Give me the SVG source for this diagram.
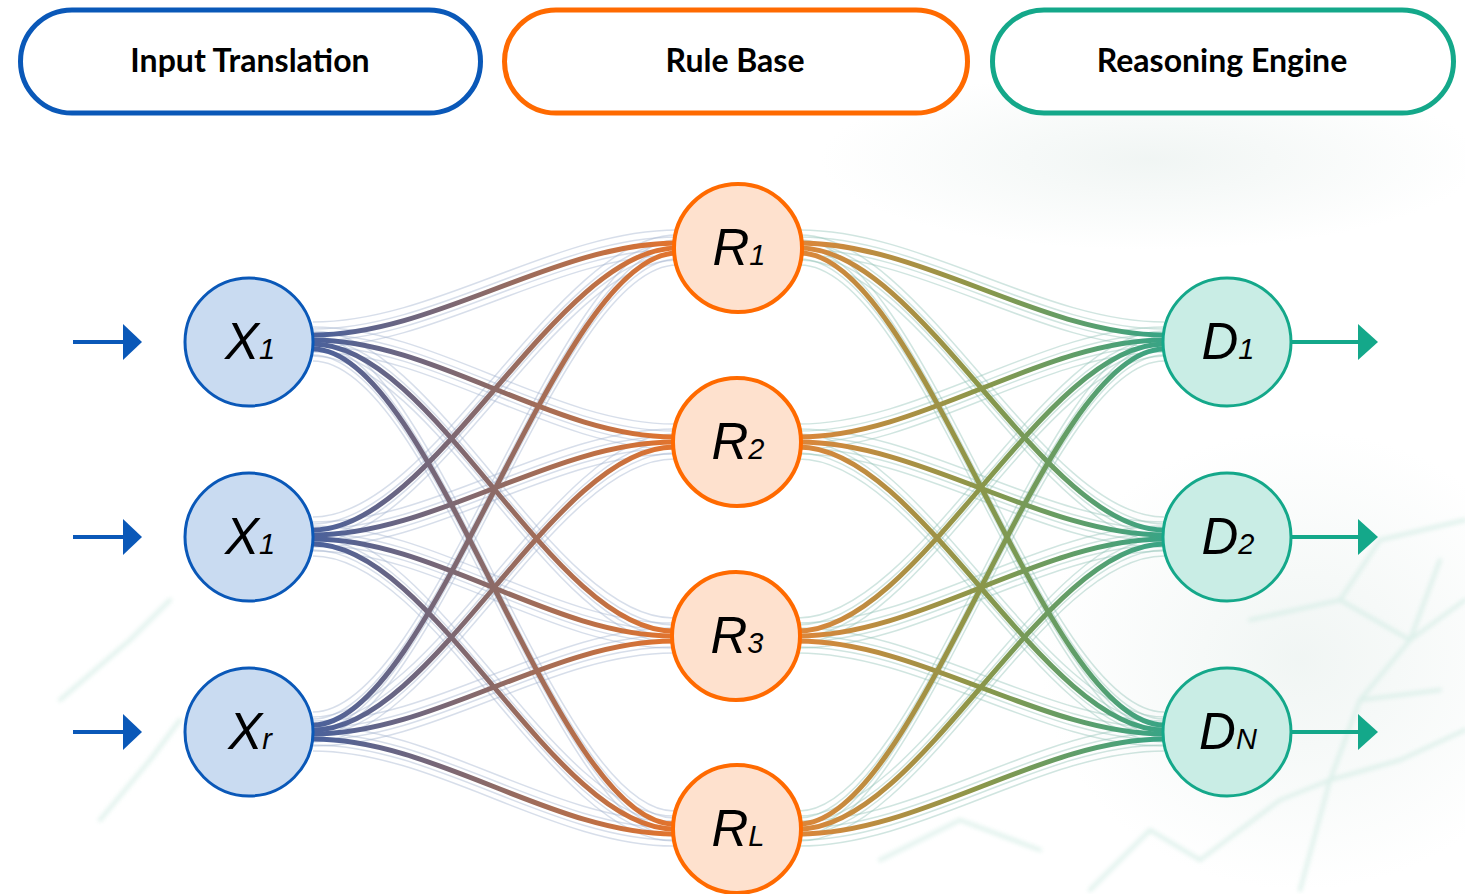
<svg xmlns="http://www.w3.org/2000/svg" xmlns:xlink="http://www.w3.org/1999/xlink" width="1465" height="894" viewBox="0 0 1465 894">
<defs>
<style>
.hdr{fill:#ffffff;stroke-width:5}
.htxt{font-family:Lato,"Open Sans",sans-serif;font-weight:700;font-size:32px;fill:#000;text-anchor:middle}
.lbl{font-family:"Liberation Sans",Arial,sans-serif;font-style:italic;font-size:51px;fill:#000;text-anchor:middle}
.sub{font-size:29px}
.xn{fill:#c9dbf1;stroke:#0a58b8;stroke-width:3}
.rn{fill:#fee1ce;stroke:#ff6a00;stroke-width:4}
.dn{fill:#c9ede5;stroke:#14a88a;stroke-width:3}
.bl{fill:none;stroke:url(#gl);stroke-width:5}
.br{fill:none;stroke:url(#gr);stroke-width:5}
.fl{fill:none;stroke:#9fb1cc;stroke-width:1.5;stroke-opacity:.42}
.fr{fill:none;stroke:#8fc2b6;stroke-width:1.5;stroke-opacity:.42}
.net{fill:none;stroke:#d2ece4;stroke-width:4;stroke-linecap:round;stroke-linejoin:round}
.inarr{stroke:#0a58b8;stroke-width:4;fill:none}
.outarr{stroke:#14a88a;stroke-width:4;fill:none}
</style>
<linearGradient id="gl" gradientUnits="userSpaceOnUse" x1="313" y1="0" x2="676" y2="0">
<stop offset="0" stop-color="#4a619c"/>
<stop offset="0.5" stop-color="#8d6a66"/>
<stop offset="1" stop-color="#e4742c"/>
</linearGradient>
<linearGradient id="gr" gradientUnits="userSpaceOnUse" x1="800" y1="0" x2="1164" y2="0">
<stop offset="0" stop-color="#dc863a"/>
<stop offset="0.5" stop-color="#8a974a"/>
<stop offset="1" stop-color="#38a486"/>
</linearGradient>
<radialGradient id="bgg" cx="0.5" cy="0.5" r="0.5">
<stop offset="0" stop-color="#edf3f1" stop-opacity="0.8"/>
<stop offset="1" stop-color="#edf3f1" stop-opacity="0"/>
</radialGradient>
<filter id="blur" x="-10%" y="-10%" width="120%" height="120%"><feGaussianBlur stdDeviation="2"/></filter>
<marker id="mb" markerUnits="userSpaceOnUse" viewBox="0 0 19 36" refX="0" refY="18" markerWidth="19" markerHeight="36" orient="auto">
<path d="M0,0 L19,18 L0,36 Z" fill="#0a58b8"/>
</marker>
<marker id="mg" markerUnits="userSpaceOnUse" viewBox="0 0 20 36" refX="0" refY="18" markerWidth="20" markerHeight="36" orient="auto">
<path d="M0,0 L20,18 L0,36 Z" fill="#14a88a"/>
</marker>
</defs>

<g id="background">
<rect x="0" y="0" width="1465" height="894" fill="#ffffff"/>
<ellipse cx="1150" cy="160" rx="330" ry="90" fill="url(#bgg)"/>
<ellipse cx="1300" cy="660" rx="260" ry="230" fill="url(#bgg)"/>
<g filter="url(#blur)" opacity="0.7">
<polyline class="net" points="1300,890 1330,780 1360,700 1410,640 1465,600"/>
<polyline class="net" points="1330,780 1400,760 1465,730"/>
<polyline class="net" points="1360,700 1440,690"/>
<polyline class="net" points="1250,620 1340,600 1410,640"/>
<polyline class="net" points="1200,860 1280,800 1330,780"/>
<polyline class="net" points="1090,890 1150,830 1200,860"/>
<polyline class="net" points="1340,600 1380,540 1465,520"/>
<polyline class="net" points="1410,640 1440,560"/>
<polyline class="net" points="60,700 130,640 170,600"/>
<polyline class="net" points="100,820 150,760 180,720"/>
<polyline class="net" points="880,860 960,820 1040,850"/>
</g>
</g>

<g id="connectors">
<g class="fl">
<use href="#a11" y="-13"/><use href="#a11" y="-6"/><use href="#a11" y="6"/><use href="#a11" y="12"/>
<use href="#a12" y="-13"/><use href="#a12" y="-6"/><use href="#a12" y="6"/><use href="#a12" y="12"/>
<use href="#a13" y="-13"/><use href="#a13" y="-6"/><use href="#a13" y="6"/><use href="#a13" y="12"/>
<use href="#a14" y="-13"/><use href="#a14" y="-6"/><use href="#a14" y="6"/><use href="#a14" y="12"/>
<use href="#a21" y="-13"/><use href="#a21" y="-6"/><use href="#a21" y="6"/><use href="#a21" y="12"/>
<use href="#a22" y="-13"/><use href="#a22" y="-6"/><use href="#a22" y="6"/><use href="#a22" y="12"/>
<use href="#a23" y="-13"/><use href="#a23" y="-6"/><use href="#a23" y="6"/><use href="#a23" y="12"/>
<use href="#a24" y="-13"/><use href="#a24" y="-6"/><use href="#a24" y="6"/><use href="#a24" y="12"/>
<use href="#a31" y="-13"/><use href="#a31" y="-6"/><use href="#a31" y="6"/><use href="#a31" y="12"/>
<use href="#a32" y="-13"/><use href="#a32" y="-6"/><use href="#a32" y="6"/><use href="#a32" y="12"/>
<use href="#a33" y="-13"/><use href="#a33" y="-6"/><use href="#a33" y="6"/><use href="#a33" y="12"/>
<use href="#a34" y="-13"/><use href="#a34" y="-6"/><use href="#a34" y="6"/><use href="#a34" y="12"/>
</g>
<g class="fr">
<use href="#b11" y="-13"/><use href="#b11" y="-6"/><use href="#b11" y="6"/><use href="#b11" y="12"/>
<use href="#b12" y="-13"/><use href="#b12" y="-6"/><use href="#b12" y="6"/><use href="#b12" y="12"/>
<use href="#b13" y="-13"/><use href="#b13" y="-6"/><use href="#b13" y="6"/><use href="#b13" y="12"/>
<use href="#b21" y="-13"/><use href="#b21" y="-6"/><use href="#b21" y="6"/><use href="#b21" y="12"/>
<use href="#b22" y="-13"/><use href="#b22" y="-6"/><use href="#b22" y="6"/><use href="#b22" y="12"/>
<use href="#b23" y="-13"/><use href="#b23" y="-6"/><use href="#b23" y="6"/><use href="#b23" y="12"/>
<use href="#b31" y="-13"/><use href="#b31" y="-6"/><use href="#b31" y="6"/><use href="#b31" y="12"/>
<use href="#b32" y="-13"/><use href="#b32" y="-6"/><use href="#b32" y="6"/><use href="#b32" y="12"/>
<use href="#b33" y="-13"/><use href="#b33" y="-6"/><use href="#b33" y="6"/><use href="#b33" y="12"/>
<use href="#b41" y="-13"/><use href="#b41" y="-6"/><use href="#b41" y="6"/><use href="#b41" y="12"/>
<use href="#b42" y="-13"/><use href="#b42" y="-6"/><use href="#b42" y="6"/><use href="#b42" y="12"/>
<use href="#b43" y="-13"/><use href="#b43" y="-6"/><use href="#b43" y="6"/><use href="#b43" y="12"/>
</g>
<g class="bl">
<path id="a11" d="M313,335 C434,335 556,243 677,243"/>
<path id="a12" d="M313,340 C434,340 553,437 674,437"/>
<path id="a13" d="M313,344 C434,344 552,631 673,631"/>
<path id="a14" d="M313,349 C434,349 553,824 674,824"/>
<path id="a21" d="M313,530 C434,530 556,248 677,248"/>
<path id="a22" d="M313,535 C434,535 553,442 674,442"/>
<path id="a23" d="M313,539 C434,539 552,636 673,636"/>
<path id="a24" d="M313,544 C434,544 553,829 674,829"/>
<path id="a31" d="M313,725 C434,725 556,253 677,253"/>
<path id="a32" d="M313,730 C434,730 553,447 674,447"/>
<path id="a33" d="M313,734 C434,734 552,641 673,641"/>
<path id="a34" d="M313,739 C434,739 553,834 674,834"/>
</g>
<g class="br">
<path id="b11" d="M800,243 C921,243 1043,335 1164,335"/>
<path id="b12" d="M800,248 C921,248 1043,530 1164,530"/>
<path id="b13" d="M800,253 C921,253 1043,725 1164,725"/>
<path id="b21" d="M799,437 C920,437 1043,340 1164,340"/>
<path id="b22" d="M799,442 C920,442 1043,535 1164,535"/>
<path id="b23" d="M799,447 C920,447 1043,730 1164,730"/>
<path id="b31" d="M798,631 C919,631 1043,344 1164,344"/>
<path id="b32" d="M798,636 C919,636 1043,539 1164,539"/>
<path id="b33" d="M798,641 C919,641 1043,734 1164,734"/>
<path id="b41" d="M799,824 C920,824 1043,349 1164,349"/>
<path id="b42" d="M799,829 C920,829 1043,544 1164,544"/>
<path id="b43" d="M799,834 C920,834 1043,739 1164,739"/>
</g>
<g id="input-arrows" class="inarr">
<path d="M73,342 H123" marker-end="url(#mb)"/>
<path d="M73,537 H123" marker-end="url(#mb)"/>
<path d="M73,732 H123" marker-end="url(#mb)"/>
</g>
<g id="output-arrows" class="outarr">
<path d="M1291,342 H1358" marker-end="url(#mg)"/>
<path d="M1291,537 H1358" marker-end="url(#mg)"/>
<path d="M1291,732 H1358" marker-end="url(#mg)"/>
</g>
</g>

<g id="header-input">
<rect class="hdr" x="20.5" y="10" width="460" height="103" rx="51.5" stroke="#0a58b8"/>
<text class="htxt" x="250" y="72">Input Translation</text>
</g>
<g id="header-rules">
<rect class="hdr" x="504.5" y="10" width="463" height="103" rx="51.5" stroke="#ff6a00"/>
<text class="htxt" x="735" y="72">Rule Base</text>
</g>
<g id="header-engine">
<rect class="hdr" x="992.5" y="10" width="461" height="103" rx="51.5" stroke="#14a88a"/>
<text class="htxt" x="1222" y="72">Reasoning Engine</text>
</g>

<g id="node-x1"><circle class="xn" cx="249" cy="342" r="64"/><text class="lbl" x="250" y="359">X<tspan class="sub">1</tspan></text></g>
<g id="node-x2"><circle class="xn" cx="249" cy="537" r="64"/><text class="lbl" x="250" y="554">X<tspan class="sub">1</tspan></text></g>
<g id="node-xr"><circle class="xn" cx="249" cy="732" r="64"/><text class="lbl" x="250" y="749">X<tspan class="sub">r</tspan></text></g>

<g id="node-r1"><circle class="rn" cx="738" cy="248" r="64"/><text class="lbl" x="739" y="265">R<tspan class="sub">1</tspan></text></g>
<g id="node-r2"><circle class="rn" cx="737" cy="442" r="64"/><text class="lbl" x="738" y="459">R<tspan class="sub">2</tspan></text></g>
<g id="node-r3"><circle class="rn" cx="736" cy="636" r="64"/><text class="lbl" x="737" y="653">R<tspan class="sub">3</tspan></text></g>
<g id="node-rl"><circle class="rn" cx="737" cy="829" r="64"/><text class="lbl" x="738" y="846">R<tspan class="sub">L</tspan></text></g>

<g id="node-d1"><circle class="dn" cx="1227" cy="342" r="64"/><text class="lbl" x="1228" y="359">D<tspan class="sub">1</tspan></text></g>
<g id="node-d2"><circle class="dn" cx="1227" cy="537" r="64"/><text class="lbl" x="1228" y="554">D<tspan class="sub">2</tspan></text></g>
<g id="node-dn"><circle class="dn" cx="1227" cy="732" r="64"/><text class="lbl" x="1228" y="749">D<tspan class="sub">N</tspan></text></g>
</svg>
